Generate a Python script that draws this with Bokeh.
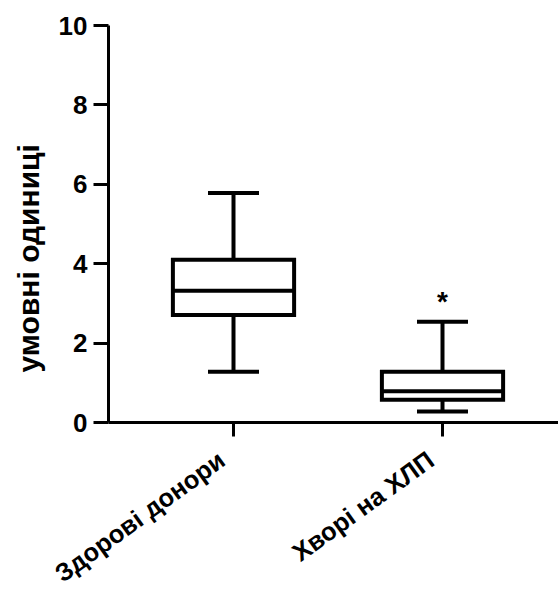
import math
from bokeh.plotting import figure
from bokeh.models import Range1d, FixedTicker, ColumnDataSource
from bokeh.core.properties import value
from bokeh.embed import file_html
from bokeh.resources import INLINE

# ---- data ----
categories = ["Здорові донори", "Хворі на ХЛП"]
positions = [1, 2]
whisker_low = [1.28, 0.28]
q1 = [2.71, 0.57]
median = [3.32, 0.79]
q3 = [4.10, 1.28]
whisker_high = [5.78, 2.54]
significance = ["", "*"]
y_ticks = [0, 2, 4, 6, 8, 10]
y_label = "умовні одиниці"

FONT = "Liberation Sans"

# ---- layout constants (pixels) ----
W, H = 558, 591
AXIS_X_PX = 108      # y-axis line position
Y0_PX, Y10_PX = 422, 25
X1_PX = 233          # first category position
PX_PER_X = 209.0
X_AXIS_START = 1 - (X1_PX - AXIS_X_PX) / PX_PER_X
PX_PER_Y = (Y0_PX - Y10_PX) / 10.0

x_start = X_AXIS_START - AXIS_X_PX / PX_PER_X
x_end = x_start + W / PX_PER_X
y_end = 10 + Y10_PX / PX_PER_Y
y_start = -(H - Y0_PX) / PX_PER_Y

p = figure(width=W, height=H, output_backend="svg", toolbar_location=None,
           x_range=Range1d(x_start, x_end), y_range=Range1d(y_start, y_end),
           min_border_left=0, min_border_right=0, min_border_top=0, min_border_bottom=0)
p.outline_line_color = None
p.xgrid.visible = False
p.ygrid.visible = False
p.background_fill_color = "white"
p.border_fill_color = "white"

box_w = 0.58
cap_w = 0.244
left = [x - box_w / 2 for x in positions]
right = [x + box_w / 2 for x in positions]
cap_l = [x - cap_w / 2 for x in positions]
cap_r = [x + cap_w / 2 for x in positions]

src = ColumnDataSource(dict(x=positions, lo=whisker_low, q1=q1, med=median, q3=q3,
                            hi=whisker_high, left=left, right=right,
                            cl=cap_l, cr=cap_r))

LW = 4
# whiskers
p.segment(x0="x", y0="q3", x1="x", y1="hi", source=src, line_color="black", line_width=LW)
p.segment(x0="x", y0="lo", x1="x", y1="q1", source=src, line_color="black", line_width=LW)
p.segment(x0="cl", y0="hi", x1="cr", y1="hi", source=src, line_color="black", line_width=LW)
p.segment(x0="cl", y0="lo", x1="cr", y1="lo", source=src, line_color="black", line_width=LW)
# boxes
p.quad(left="left", right="right", bottom="q1", top="q3", source=src,
       fill_color="white", line_color="black", line_width=LW, line_join="miter")
p.segment(x0="left", y0="med", x1="right", y1="med", source=src, line_color="black", line_width=LW)

# significance marks
src2 = ColumnDataSource(dict(x=positions, y=[h + 0.5 for h in whisker_high], t=significance))
p.text(x="x", y="y", text="t", source=src2, text_align="center", text_baseline="alphabetic",
       text_font=value(FONT), text_font_style="bold", text_font_size="28px", text_color="black")

# axes (placed at fixed data locations so that they take no border space)
for ax in (p.xaxis[0], p.yaxis[0]):
    ax.axis_line_width = 3
    ax.axis_line_color = "black"
    ax.major_tick_line_width = 3
    ax.major_tick_line_color = "black"
    ax.minor_tick_line_color = None
    ax.major_tick_in = 0
    ax.major_label_text_font = FONT
    ax.major_label_text_font_style = "bold"
    ax.major_label_text_color = "black"

p.yaxis.fixed_location = X_AXIS_START
p.yaxis.bounds = (0, 10)
p.yaxis.ticker = FixedTicker(ticks=y_ticks)
p.yaxis.major_tick_out = 15
p.yaxis.major_label_standoff = 6
p.yaxis.major_label_text_font_size = "26px"

p.xaxis.fixed_location = 0
p.xaxis.bounds = (X_AXIS_START, x_end)
p.xaxis.ticker = FixedTicker(ticks=positions)
p.xaxis.major_tick_out = 14
p.xaxis.major_label_overrides = {pos: "" for pos in positions}
p.xaxis.major_label_text_font_size = "0px"
p.xaxis.major_label_standoff = 0

# rotated category labels under the axis
src3 = ColumnDataSource(dict(x=positions, t=categories))
p.text(x="x", y=-23 / PX_PER_Y, text="t", source=src3, angle=math.radians(36), x_offset=-20,
       text_align="right", text_baseline="top", text_font=value(FONT),
       text_font_style="bold", text_font_size="25.5px", text_color="black")

# y-axis title
p.text(x=[X_AXIS_START - (AXIS_X_PX - 28) / PX_PER_X], y=[(Y0_PX - 372) / PX_PER_Y],
       text=[y_label], angle=math.pi / 2, text_align="left", text_baseline="middle",
       text_font=value(FONT), text_font_style="bold", text_font_size="30px", text_color="black")

open("out.html", "w").write(file_html(p, INLINE))
